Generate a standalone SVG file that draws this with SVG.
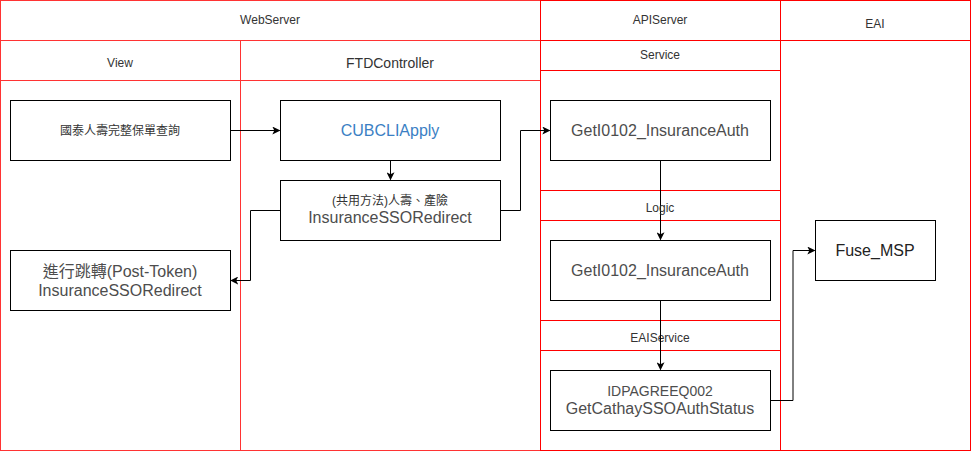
<svg xmlns="http://www.w3.org/2000/svg" width="971" height="452" viewBox="0 0 971 452">
<style>
.lane1{fill:none;stroke:#ff3333;stroke-width:1}
.lane2{fill:none;stroke:#ff0000;stroke-width:1}
.box{fill:#ffffff;stroke:#000000;stroke-width:1}
.hd{font-family:"Liberation Sans",Arial,sans-serif;font-size:12px;fill:#333333;text-anchor:middle;dominant-baseline:central}
.tx{font-family:"Liberation Sans","Noto Sans CJK TC",Arial,sans-serif;font-size:16px;fill:#4d4d4d;text-anchor:middle;dominant-baseline:central}
.sm{font-family:"Liberation Sans","Noto Sans CJK TC",Arial,sans-serif;font-size:12px;fill:#333333;text-anchor:middle;dominant-baseline:central}
.edge{fill:none;stroke:#000000;stroke-width:1}
</style>
<defs>
<marker id="arr" viewBox="0 0 10 10" refX="9" refY="5" markerWidth="8" markerHeight="8" markerUnits="userSpaceOnUse" orient="auto">
<path d="M0,0 L10,5 L0,10 L2.5,5 Z" fill="#000000"/>
</marker>
</defs>
<rect width="971" height="452" fill="#ffffff"/>
<g id="lane-webserver">
<rect class="lane1" x="0.5" y="0.5" width="540" height="450"/>
<line class="lane1" x1="0.5" y1="40.5" x2="540.5" y2="40.5"/>
<line class="lane1" x1="240.5" y1="40.5" x2="240.5" y2="450.5"/>
<line class="lane1" x1="0.5" y1="80.5" x2="540.5" y2="80.5"/>
<text class="hd" x="270" y="20">WebServer</text>
<text class="hd" x="120" y="63">View</text>
<text class="hd" x="390" y="63" style="font-size:14px">FTDController</text>
</g>
<g id="lane-apiserver">
<rect class="lane2" x="540.5" y="0.5" width="240" height="450"/>
<line class="lane2" x1="540.5" y1="40.5" x2="780.5" y2="40.5"/>
<line class="lane2" x1="540.5" y1="70.5" x2="780.5" y2="70.5"/>
<line class="lane2" x1="540.5" y1="190.5" x2="780.5" y2="190.5"/>
<line class="lane2" x1="540.5" y1="220.5" x2="780.5" y2="220.5"/>
<line class="lane2" x1="540.5" y1="320.5" x2="780.5" y2="320.5"/>
<line class="lane2" x1="540.5" y1="350.5" x2="780.5" y2="350.5"/>
<text class="hd" x="660" y="20">APIServer</text>
<text class="hd" x="660" y="55">Service</text>
<text class="hd" x="660" y="338">EAIService</text>
</g>
<g id="lane-eai">
<rect class="lane2" x="780.5" y="0.5" width="190" height="450"/>
<line class="lane2" x1="780.5" y1="40.5" x2="970.5" y2="40.5"/>
<text class="hd" x="875" y="24">EAI</text>
</g>
<g id="connectors">
<path class="edge" d="M230.5,130.5 L279.5,130.5" marker-end="url(#arr)"/>
<path class="edge" d="M390.5,160.5 L390.5,179.5" marker-end="url(#arr)"/>
<path class="edge" d="M280.5,210.5 L250.5,210.5 L250.5,280.5 L231,280.5" marker-end="url(#arr)"/>
<path class="edge" d="M500.5,210.5 L520.5,210.5 L520.5,130.5 L549.5,130.5" marker-end="url(#arr)"/>
<path class="edge" d="M660.5,160.5 L660.5,239.5" marker-end="url(#arr)"/>
<path class="edge" d="M660.5,300.5 L660.5,369.5" marker-end="url(#arr)"/>
<path class="edge" d="M770.5,400.5 L793,400.5 L793,250.5 L814.5,250.5" marker-end="url(#arr)"/>
</g>
<text class="hd" x="660" y="208">Logic</text>
<g id="node-cathay-query">
<rect class="box" x="10.5" y="100.5" width="220" height="60"/>
<text class="sm" x="120" y="130.5">國泰人壽完整保單查詢</text>
</g>
<g id="node-cubcliapply">
<rect class="box" x="280.5" y="100.5" width="220" height="60"/>
<text class="tx" x="390" y="130.5" style="fill:#3b7fc4">CUBCLIApply</text>
</g>
<g id="node-insurance-sso">
<rect class="box" x="280.5" y="180.5" width="220" height="60"/>
<text class="sm" x="390" y="200.5">(共用方法)人壽、產險</text>
<text class="tx" x="390" y="217.5">InsuranceSSORedirect</text>
</g>
<g id="node-redirect">
<rect class="box" x="10.5" y="250.5" width="220" height="60"/>
<text class="tx" x="120" y="271.5">進行跳轉(Post-Token)</text>
<text class="tx" x="120" y="290">InsuranceSSORedirect</text>
</g>
<g id="node-service-auth">
<rect class="box" x="550.5" y="100.5" width="220" height="60"/>
<text class="tx" x="660" y="130.5">GetI0102_InsuranceAuth</text>
</g>
<g id="node-logic-auth">
<rect class="box" x="550.5" y="240.5" width="220" height="60"/>
<text class="tx" x="660" y="270.5">GetI0102_InsuranceAuth</text>
</g>
<g id="node-eai-service">
<rect class="box" x="550.5" y="370.5" width="220" height="60"/>
<text class="tx" x="660" y="391" style="font-size:14px">IDPAGREEQ002</text>
<text class="tx" x="660" y="408.5">GetCathaySSOAuthStatus</text>
</g>
<g id="node-fuse-msp">
<rect class="box" x="815.5" y="220.5" width="120" height="60"/>
<text class="tx" x="875" y="250.5" style="fill:#222222">Fuse_MSP</text>
</g>
</svg>
